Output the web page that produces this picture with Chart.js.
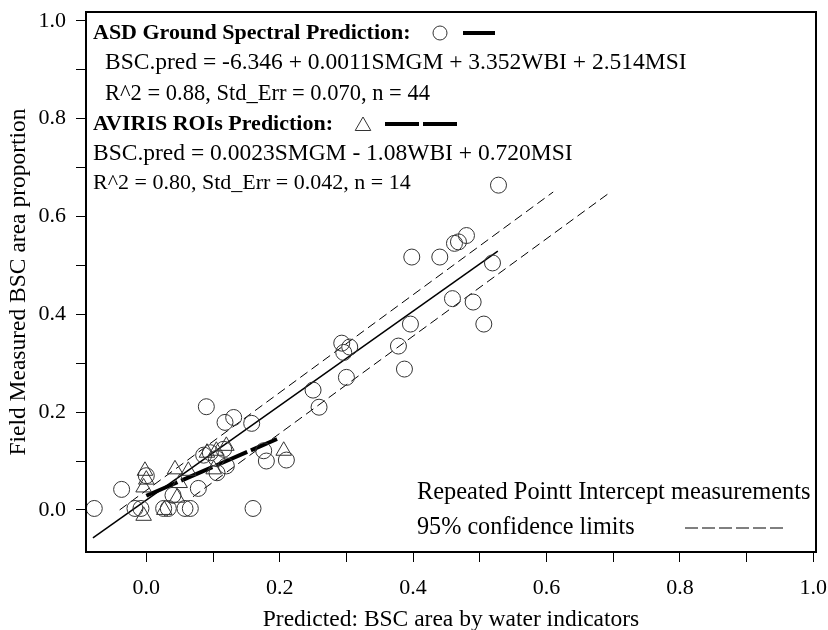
<!DOCTYPE html>
<html><head><meta charset="utf-8">
<script src="https://cdn.jsdelivr.net/npm/chart.js@4/dist/chart.umd.min.js"></script>
<style>html,body{margin:0;padding:0;background:#fff}canvas{display:block}</style>
</head><body>
<canvas id="c" width="828" height="630"></canvas>
<script>
// ---- data ----
const asdX = [0.528,0.480,0.468,0.462,0.398,0.440,0.519,0.459,0.490,0.506,0.396,0.378,0.387,0.293,0.305,0.296,0.300,0.250,0.259,0.090,0.118,0.131,0.158,-0.037,0.078,0.160,-0.078,-0.017,-0.008,0.026,0.033,0.058,0.066,0.096,0.116,0.106,0.180,0.210,0.176,0.000,0.105,0.086,0.120,0.040];
const asdY = [0.664,0.561,0.548,0.545,0.517,0.517,0.505,0.432,0.425,0.380,0.380,0.335,0.288,0.341,0.333,0.322,0.271,0.245,0.210,0.211,0.179,0.189,0.177,0.042,0.044,0.003,0.003,0.003,0.003,0.003,0.003,0.003,0.003,0.117,0.124,0.076,0.100,0.102,0.121,0.070,0.105,0.112,0.090,0.030];
const avirisX = [-0.002,-0.004,-0.004,0.043,0.063,0.046,0.091,0.105,0.120,0.101,0.206,0.000,0.027,0.050];
const avirisY = [0.080,0.046,-0.012,0.083,0.080,0.025,0.117,0.121,0.131,0.083,0.121,0.062,0.000,0.055];
const fitX = [-0.080, 0.527];
const fitY = [-0.057, 0.529];
const upperX = [-0.040, 0.610];
const upperY = [0.000, 0.650];
const lowerX = [0.070, 0.696];
const lowerY = [0.027, 0.650];
const avLineX = [0.000, 0.196];
const avLineY = [0.029, 0.145];
const xTickLabels = ['0.0','0.2','0.4','0.6','0.8','1.0'];
const yTickLabels = ['0.0','0.2','0.4','0.6','0.8','1.0'];
const xTitle = 'Predicted: BSC area by water indicators';
const yTitle = 'Field Measured BSC area proportion';
const noteTexts = [
  'ASD Ground Spectral Prediction:',
  'BSC.pred = -6.346 + 0.0011SMGM + 3.352WBI + 2.514MSI',
  'R^2 = 0.88, Std_Err = 0.070, n = 44',
  'AVIRIS ROIs Prediction:',
  'BSC.pred = 0.0023SMGM - 1.08WBI + 0.720MSI',
  'R^2 = 0.80, Std_Err = 0.042, n = 14',
  'Repeated Pointt Intercept measurements',
  '95% confidence limits'
];

const pts = (xs, ys) => xs.map((x, i) => ({x, y: ys[i]}));
const SERIF = '"Liberation Serif", "Times New Roman", serif';

function tickCb(labels){
  return function(v){
    const k = Math.round(v * 10);
    if (Math.abs(v * 10 - k) > 1e-6 || k % 2 !== 0) return '';
    return labels[k / 2] !== undefined ? labels[k / 2] : '';
  };
}
function zeroPad(s){ s.paddingLeft = 0; s.paddingRight = 0; s.paddingTop = 0; s.paddingBottom = 0; }

const notesPlugin = {
  id: 'notes',
  afterDraw(chart){
    const {ctx, chartArea: a} = chart;
    ctx.save();
    ctx.strokeStyle = '#000'; ctx.lineWidth = 2;
    ctx.strokeRect(a.left, a.top, a.right - a.left, a.bottom - a.top);
    ctx.fillStyle = '#000'; ctx.textBaseline = 'middle'; ctx.textAlign = 'left';
    const pos = [[93,33,'bold 22px'],[105,63,'23.5px'],[105,94,'22.5px'],[93,124,'bold 22px'],[93,154,'23.5px'],[93,183,'22px'],[417,493,'24.4px'],[417,528,'24.2px']];
    noteTexts.forEach((t, i) => {
      const p = pos[i];
      ctx.font = p[2] + ' ' + SERIF;
      ctx.fillText(t, p[0], p[1]);
    });
    // legend symbols
    ctx.fillStyle = 'rgba(0,0,0,0)';
    ctx.strokeStyle = '#333'; ctx.lineWidth = 1;
    Chart.helpers.drawPoint(ctx, {pointStyle: 'circle', radius: 7, rotation: 0, borderWidth: 1}, 440, 33);
    Chart.helpers.drawPoint(ctx, {pointStyle: 'triangle', radius: 9, rotation: 0, borderWidth: 1}, 363, 126);
    ctx.strokeStyle = '#000'; ctx.lineWidth = 4;
    ctx.beginPath(); ctx.moveTo(463, 33); ctx.lineTo(495, 33); ctx.stroke();
    ctx.beginPath(); ctx.moveTo(385, 124); ctx.lineTo(419, 124); ctx.moveTo(423, 124); ctx.lineTo(457, 124); ctx.stroke();
    ctx.lineWidth = 1; ctx.setLineDash([13, 4]);
    ctx.beginPath(); ctx.moveTo(685, 528); ctx.lineTo(787, 528); ctx.stroke();
    ctx.restore();
  }
};

const lineDs = (data, extra) => Object.assign({type: 'line', data, showLine: true, pointRadius: 0, borderColor: '#000', fill: false, tension: 0}, extra);

new Chart(document.getElementById('c'), {
  type: 'scatter',
  data: {
    datasets: [
      {label: 'ASD', data: pts(asdX, asdY), pointStyle: 'circle', pointRadius: 8, borderColor: '#333', borderWidth: 1, backgroundColor: 'rgba(0,0,0,0)'},
      {label: 'AVIRIS', data: pts(avirisX, avirisY), pointStyle: 'triangle', pointRadius: 9, borderColor: '#333', borderWidth: 1, backgroundColor: 'rgba(0,0,0,0)'},
      lineDs(pts(fitX, fitY), {label: 'fit', borderWidth: 1.5}),
      lineDs(pts(upperX, upperY), {label: 'upper', borderWidth: 1, borderDash: [9, 5]}),
      lineDs(pts(lowerX, lowerY), {label: 'lower', borderWidth: 1, borderDash: [9, 5]}),
      lineDs(pts(avLineX, avLineY), {label: 'aviris fit', borderWidth: 4, borderDash: [34, 4]})
    ]
  },
  options: {
    responsive: false, animation: false, devicePixelRatio: 1,
    layout: {padding: {top: 12, right: 12, left: 0, bottom: 0}},
    plugins: {legend: {display: false}, tooltip: {enabled: false}},
    scales: {
      x: {
        type: 'linear', min: -0.0904, max: 1.004,
        afterFit(s){ s.height = 78; zeroPad(s); },
        border: {display: true, color: '#000', width: 2},
        grid: {drawOnChartArea: false, drawTicks: true, tickLength: 10, tickColor: '#000', tickWidth: 1},
        ticks: {stepSize: 0.1, includeBounds: false, autoSkip: false, maxRotation: 0, padding: 13, color: '#000', font: {family: SERIF, size: 22}, callback: tickCb(xTickLabels)},
        title: {display: true, text: xTitle, color: '#000', font: {family: SERIF, size: 23.5, lineHeight: 0.9}, padding: {top: 0, bottom: 0}}
      },
      y: {
        type: 'linear', min: -0.086, max: 1.018,
        afterFit(s){ s.width = 86; zeroPad(s); },
        border: {display: true, color: '#000', width: 2},
        grid: {drawOnChartArea: false, drawTicks: true, tickLength: 10, tickColor: '#000', tickWidth: 1},
        ticks: {stepSize: 0.1, includeBounds: false, autoSkip: false, padding: 10, color: '#000', font: {family: SERIF, size: 22}, callback: tickCb(yTickLabels)},
        title: {display: true, text: yTitle, color: '#000', font: {family: SERIF, size: 23.5, lineHeight: 1.2}, padding: {top: 5, bottom: 0}}
      }
    }
  },
  plugins: [notesPlugin]
});
</script>
</body></html>
